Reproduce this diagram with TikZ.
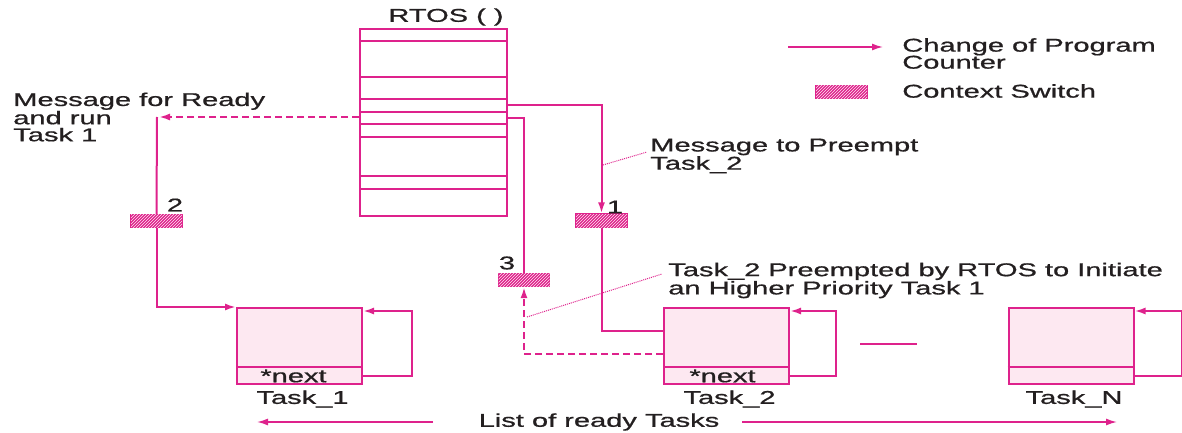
\documentclass[tikz,border=0pt]{standalone}
\usepackage{fontspec}
\setmainfont{Liberation Sans}
\newfontfamily\lblfam[FakeBold=0.7]{Liberation Sans}
\usetikzlibrary{patterns}
\usetikzlibrary{arrows.meta}
\usetikzlibrary{calc}

\definecolor{mag}{RGB}{222,34,140}
\definecolor{pinkfill}{RGB}{253,232,241}
\definecolor{ink}{RGB}{35,31,32}
\newcommand{\lblfont}{\lblfam\fontsize{18.5}{17}\selectfont}

\begin{document}
\begin{tikzpicture}[x=1pt,y=-1pt,
  mline/.style={draw=mag,line width=2pt},
  tip/.style={-{Latex[length=11pt,width=7pt]}},
  dashline/.style={mline,dash pattern=on 7pt off 4pt},
  callout/.style={draw=mag,line width=1pt,densely dotted},
  txt/.style={font=\lblfont,text=ink,inner sep=0pt,xscale=1.57,align=left},
  rtosbox/.style={mline,minimum width=147pt,minimum height=187pt,inner sep=0pt},
  task/.style={mline,fill=pinkfill,minimum width=125pt,minimum height=76pt,inner sep=0pt},
  csbox/.style={draw=mag,line width=1.2pt,fill=mag,minimum width=51pt,minimum height=13pt,inner sep=0pt,
    postaction={pattern=north east lines,pattern color=pinkfill}}]
\useasboundingbox (0,0) rectangle (1182,433);

% RTOS table
\node[rtosbox] (rtos) at (433.5,122.5) {};
\foreach \r in {41,77,99,112,124,137,176,189}
  \draw[mline] (rtos.west |- 0,\r) -- (rtos.east |- 0,\r);
\node[txt] (rtoslbl) at (446,17) {RTOS ( )};

% legend
\coordinate (lga) at (788,47);
\coordinate (lgb) at (883,47);
\draw[mline,line width=1.5pt,tip] (lga) -- (lgb);
\node[txt,anchor=west] (lgtxt) at (902,53.5) {Change of Program\\Counter};
\node[csbox] (lgcs) at (841.5,92) {};
\node[txt,anchor=west] (lgcstxt) at (902,91) {Context Switch};

% tasks
\node[task] (t1) at (299.5,346) {};
\node[task] (t2) at (726.5,346) {};
\node[task] (tn) at (1071,346) {};
\foreach \t/\n in {t1/Task\_1,t2/Task\_2,tn/Task\_N}{
  \draw[mline] ($(\t.south west)+(0,-18)$) -- ($(\t.south east)+(0,-18)$);
  \node[txt] (\t name) at ($(\t.south)+(3,14)$) {\n};
}
\node[txt] (t1next) at ($(t1.south)+(-6,-9)$) {*next};
\node[txt] (t2next) at ($(t2.south)+(-4,-9)$) {*next};

% self loops to next pointer
\foreach \t/\w in {t1/49,t2/46,tn/47}
  \draw[mline,tip] ($(\t.south east)+(0,-9)$) -- ++(\w,0) |- ($(\t.north east)+(0,4)$);
\coordinate (dsa) at (860,344);
\coordinate (dsb) at (917,344);
\draw[mline] (dsa) -- (dsb);

% context switches
\node[csbox] (cs1) at (601.5,220.5) {};
\node[csbox] (cs2) at (156.5,221) {};
\node[csbox] (cs3) at (524,280) {};
\node[txt] (n1) at (615,207) {1};
\node[txt] (n2) at (175,205) {2};
\node[txt] (n3) at (507,263) {3};

% ready and run Task 1
\coordinate (rd) at (157,117);
\draw[dashline,tip] (rtos.west |- rd) -- ($(rd)+(2,0)$);
\draw[mline] (rd) -- (cs2.north);
\draw[mline,tip] (cs2.south) |- (t1.north west);
\node[txt,anchor=west] (rdtxt) at (13,117) {Message for Ready\\and run\\Task 1};

% preempt Task_2
\coordinate (pa) at (602,105);
\draw[mline,tip] (rtos.east |- pa) -| (cs1.north);
\draw[mline] (cs1.south) |- (t2.west |- 0,331);
\coordinate (pb) at (524,118);
\draw[mline] (rtos.east |- pb) -| (cs3.north);
\draw[dashline,tip] (t2.west |- 0,354) -| (cs3.south);

% callouts
\coordinate (ca) at (603,165);
\draw[callout] (ca) -- (647,152);
\node[txt,anchor=west] (catxt) at (650,156) {Message to Preempt\\Task\_2};
\coordinate (cb) at (527,317);
\draw[callout] (cb) -- (662,274);
\node[txt,anchor=west] (cbtxt) at (668,280.5) {Task\_2 Preempted by RTOS to Initiate\\an Higher Priority Task 1};

% list of ready tasks
\node[txt] (list) at (599,422) {List of ready Tasks};
\coordinate (la) at (257,422);
\coordinate (lb) at (1117,422);
\draw[mline,line width=1.5pt,tip] (433,422) -- (la);
\draw[mline,line width=1.5pt,tip] (742,422) -- (lb);
\end{tikzpicture}
\end{document}
